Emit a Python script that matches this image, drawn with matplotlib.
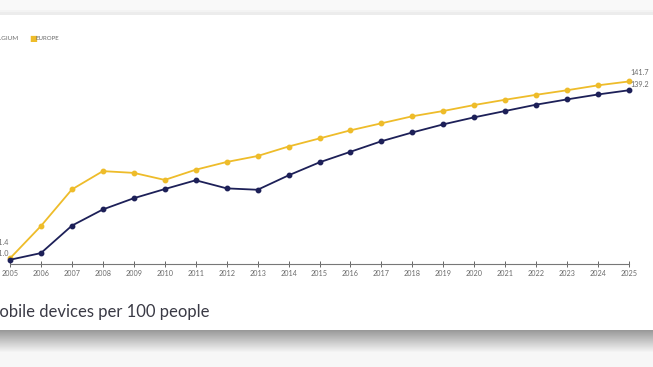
import numpy as np
import matplotlib
matplotlib.use('Agg')
import matplotlib.pyplot as plt

years = list(range(2005, 2026))
europe = [91.4, 100.6, 111.0, 116.2, 115.7, 113.7, 116.6, 118.8, 120.5, 123.2, 125.5,
          127.8, 129.8, 131.8, 133.3, 135.0, 136.5, 137.9, 139.2, 140.6, 141.7]
belgium = [91.0, 92.9, 100.7, 105.3, 108.5, 111.1, 113.6, 111.3, 110.9, 115.0, 118.7,
           121.7, 124.7, 127.2, 129.5, 131.5, 133.3, 135.1, 136.6, 138.0, 139.2]
series_names = ['BELGIUM', 'EUROPE']
title = 'Mobile devices per 100 people'

navy = '#1d2058'
gold = '#eebc2a'
grey_txt = '#6a6a6a'

plt.rcParams['font.family'] = ['Lato', 'DejaVu Sans']

W, H = 653, 367
fig = plt.figure(figsize=(W / 100, H / 100), dpi=100)

# page background: grey band on top, white card, shadow under the card
bg = fig.add_axes([0, 0, 1, 1], zorder=-10)
col = np.ones(H)
col[0:10] = 0.975
col[10:12] = 0.955
col[12:15] = 0.925
col[330:352] = np.linspace(0.6, 0.95, 22)
col[352:] = 0.965
bg.imshow(np.tile(col[:, None], (1, W)), cmap='gray', vmin=0, vmax=1,
          aspect='auto', extent=(0, W, H, 0), interpolation='nearest')
bg.set_xlim(0, W)
bg.set_ylim(H, 0)
bg.axis('off')

ax = fig.add_axes([10 / W, 0.2807, 619 / W, 0.529])
ax.patch.set_alpha(0)
ax.plot(years, europe, color=gold, lw=1.3, marker='o', ms=3.2, label=series_names[1],
        clip_on=False, zorder=3)
ax.plot(years, belgium, color=navy, lw=1.3, marker='o', ms=3.2, label=series_names[0],
        clip_on=False, zorder=4)

ax.set_xlim(2005, 2025)
ax.set_ylim(89.8, 145)
for s in ['top', 'right', 'left']:
    ax.spines[s].set_visible(False)
ax.spines['bottom'].set_color('#777777')
ax.spines['bottom'].set_linewidth(0.8)
ax.set_yticks([])
ax.set_xticks(years)
ax.tick_params(axis='x', direction='inout', length=4, width=0.7, color='#666666',
               labelsize=5.2, labelcolor=grey_txt, pad=2)

# end labels
ax.annotate(f'{europe[0]:.1f}', (years[0], europe[0]), xytext=(-1, 16),
            textcoords='offset pixels', ha='right', va='center', fontsize=5.2, color=grey_txt)
ax.annotate(f'{belgium[0]:.1f}', (years[0], belgium[0]), xytext=(-1, 6),
            textcoords='offset pixels', ha='right', va='center', fontsize=5.2, color=grey_txt)
ax.annotate(f'{europe[-1]:.1f}', (years[-1], europe[-1]), xytext=(1, 9),
            textcoords='offset pixels', ha='left', va='center', fontsize=5.2, color=grey_txt)
ax.annotate(f'{belgium[-1]:.1f}', (years[-1], belgium[-1]), xytext=(1, 6),
            textcoords='offset pixels', ha='left', va='center', fontsize=5.2, color=grey_txt)

# legend (starts off the left edge, as in the cropped screenshot)
fig.text(19 / W, 1 - 39 / H, series_names[0], ha='right', va='center', fontsize=4.6,
         color=grey_txt)
fig.text(-12 / W, 1 - 39 / H, '\u25a0', ha='right', va='center', fontsize=6, color=navy)
fig.text(29.5 / W, 1 - 39 / H, '\u25a0', ha='left', va='center', fontsize=6, color=gold)
fig.text(36 / W, 1 - 39 / H, series_names[1], ha='left', va='center', fontsize=4.4,
         color=grey_txt)

fig.text(210 / W, 1 - 312 / H, title, ha='right', va='center', fontsize=12,
         color='#3a3a45')

fig.savefig('out.png', dpi=100)
